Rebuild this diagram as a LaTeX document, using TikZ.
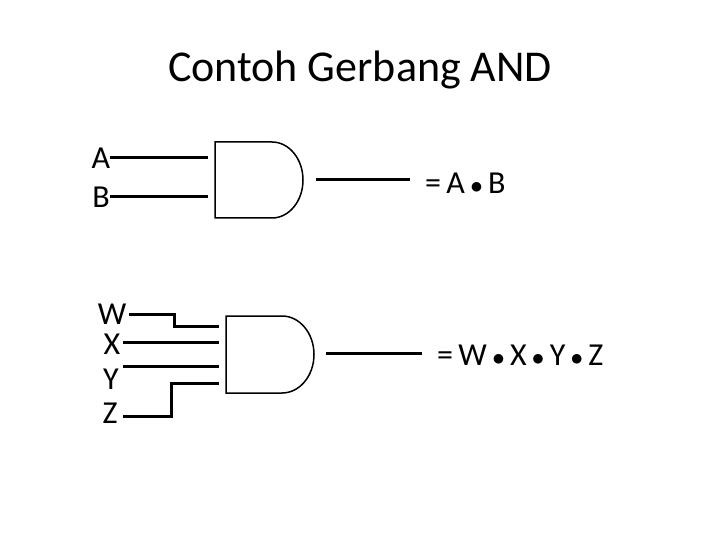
\documentclass[tikz,border=0pt]{standalone}
\usepackage{fontspec}
\setmainfont{Carlito}
\newcommand{\bdot}{\,{\fontsize{38}{38}\selectfont$\bullet$}\,}
\begin{document}
\begin{tikzpicture}[x=1pt,y=-1pt,
 wire/.style={line width=3pt},
 gate/.style={line width=1.5pt},
 lab/.style={font=\fontsize{32}{34}\selectfont, inner sep=0pt}]
\useasboundingbox (0,0) rectangle (720,540);
\node[font=\fontsize{44}{46}\selectfont] (title) at (360,70) {Contoh Gerbang AND};
% gate 1
\draw[gate] (215,142) -- (272,142) arc[start angle=90,end angle=-90,x radius=31,y radius=-38] -- (215,218) -- cycle;
\node[lab] (A) at (101,158) {A};
\node[lab] (B) at (101,197) {B};
\coordinate (a1) at (208,158); \coordinate (b1) at (208,197);
\draw[wire] (A.east) -- (a1);
\draw[wire] (B.east) -- (b1);
\coordinate (o1s) at (316,180); \coordinate (o1e) at (410,180);
\draw[wire] (o1s) -- (o1e);
\node[lab,anchor=west] (r1) at (425,183) {=\,A\bdot B};
% gate 2
\draw[gate] (226,316) -- (282,316) arc[start angle=90,end angle=-90,x radius=32,y radius=-38.5] -- (226,393) -- cycle;
\node[lab] (W) at (112,314) {W};
\node[lab] (X) at (112,344) {X};
\node[lab] (Y) at (111,379) {Y};
\node[lab] (Z) at (110,413) {Z};
\coordinate (w0) at (129,314); \coordinate (w1) at (219,326);
\coordinate (x0) at (123,342); \coordinate (x1) at (219,342);
\coordinate (y0) at (123,366); \coordinate (y1) at (219,366);
\coordinate (z0) at (123,416); \coordinate (z1) at (219,383);
\draw[wire] (w0) -- (174,314) -- (174,326) -- (w1);
\draw[wire] (x0) -- (x1);
\draw[wire] (y0) -- (y1);
\draw[wire] (z0) -- (171,416) -- (171,383) -- (z1);
\coordinate (o2s) at (326,353); \coordinate (o2e) at (422,353);
\draw[wire] (o2s) -- (o2e);
\node[lab,anchor=west] (r2) at (437,355) {=\,W\bdot X\bdot Y\bdot Z};
\end{tikzpicture}
\end{document}
